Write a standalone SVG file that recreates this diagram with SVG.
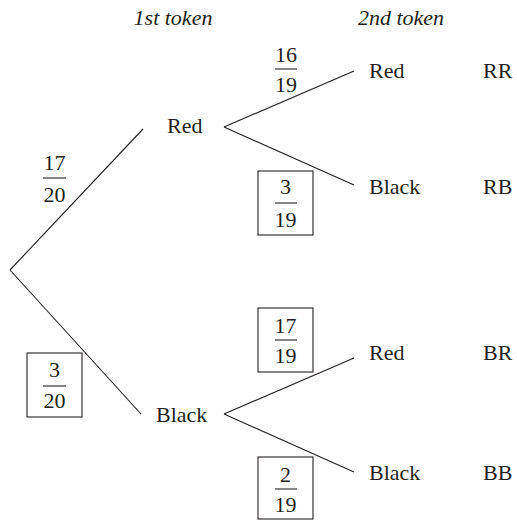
<svg xmlns="http://www.w3.org/2000/svg" width="517" height="521" viewBox="0 0 517 521">
  <!-- column headings -->
  <g id="headings">
    <text x="173" y="25" font-size="22" font-family="Liberation Serif" font-style="italic" text-anchor="middle" fill="#231f20">1st token</text>
    <text x="401" y="25" font-size="22" font-family="Liberation Serif" font-style="italic" text-anchor="middle" fill="#231f20">2nd token</text>
  </g>

  <!-- branches -->
  <g id="connectors" stroke="#231f20" stroke-width="1.1" fill="none">
    <line x1="10" y1="270" x2="143" y2="129"/>
    <line x1="10" y1="270" x2="141" y2="414"/>
    <line x1="224" y1="127" x2="354" y2="71"/>
    <line x1="224" y1="127" x2="354" y2="185"/>
    <line x1="224" y1="414" x2="354" y2="358"/>
    <line x1="224" y1="414" x2="354" y2="472"/>
  </g>

  <!-- first draw -->
  <g id="node-red"><text x="167" y="133" font-size="22" font-family="Liberation Serif" fill="#231f20">Red</text></g>
  <g id="node-black"><text x="156" y="422" font-size="22" font-family="Liberation Serif" fill="#231f20">Black</text></g>

  <!-- second draw -->
  <g id="node-red-red">
    <text x="369" y="78" font-size="22" font-family="Liberation Serif" fill="#231f20">Red</text>
    <text x="483" y="78" font-size="22" font-family="Liberation Serif" fill="#231f20">RR</text>
  </g>
  <g id="node-red-black">
    <text x="369" y="194" font-size="22" font-family="Liberation Serif" fill="#231f20">Black</text>
    <text x="483" y="194" font-size="22" font-family="Liberation Serif" fill="#231f20">RB</text>
  </g>
  <g id="node-black-red">
    <text x="369" y="360" font-size="22" font-family="Liberation Serif" fill="#231f20">Red</text>
    <text x="483" y="360" font-size="22" font-family="Liberation Serif" fill="#231f20">BR</text>
  </g>
  <g id="node-black-black">
    <text x="369" y="480" font-size="22" font-family="Liberation Serif" fill="#231f20">Black</text>
    <text x="483" y="480" font-size="22" font-family="Liberation Serif" fill="#231f20">BB</text>
  </g>

  <!-- branch probabilities -->
  <g id="p-17-20">
    <text x="54.5" y="170" font-size="22" font-family="Liberation Serif" text-anchor="middle" fill="#231f20">17</text>
    <line x1="43" y1="178" x2="66" y2="178" stroke="#231f20" stroke-width="1.1"/>
    <text x="54.5" y="202" font-size="22" font-family="Liberation Serif" text-anchor="middle" fill="#231f20">20</text>
  </g>
  <g id="p-3-20">
    <rect x="27" y="353" width="55" height="64" stroke="#231f20" stroke-width="1.1" fill="none"/>
    <text x="54.5" y="377" font-size="22" font-family="Liberation Serif" text-anchor="middle" fill="#231f20">3</text>
    <line x1="43" y1="386" x2="66" y2="386" stroke="#231f20" stroke-width="1.1"/>
    <text x="54.5" y="408" font-size="22" font-family="Liberation Serif" text-anchor="middle" fill="#231f20">20</text>
  </g>
  <g id="p-16-19">
    <text x="286" y="62" font-size="22" font-family="Liberation Serif" text-anchor="middle" fill="#231f20">16</text>
    <line x1="275" y1="69" x2="297" y2="69" stroke="#231f20" stroke-width="1.1"/>
    <text x="286" y="92" font-size="22" font-family="Liberation Serif" text-anchor="middle" fill="#231f20">19</text>
  </g>
  <g id="p-3-19">
    <rect x="258" y="171" width="55" height="64" stroke="#231f20" stroke-width="1.1" fill="none"/>
    <text x="285.5" y="194" font-size="22" font-family="Liberation Serif" text-anchor="middle" fill="#231f20">3</text>
    <line x1="275" y1="203" x2="297" y2="203" stroke="#231f20" stroke-width="1.1"/>
    <text x="285.5" y="227" font-size="22" font-family="Liberation Serif" text-anchor="middle" fill="#231f20">19</text>
  </g>
  <g id="p-17-19">
    <rect x="258" y="308" width="55" height="64" stroke="#231f20" stroke-width="1.1" fill="none"/>
    <text x="285.5" y="333" font-size="22" font-family="Liberation Serif" text-anchor="middle" fill="#231f20">17</text>
    <line x1="275" y1="340" x2="297" y2="340" stroke="#231f20" stroke-width="1.1"/>
    <text x="285.5" y="363" font-size="22" font-family="Liberation Serif" text-anchor="middle" fill="#231f20">19</text>
  </g>
  <g id="p-2-19">
    <rect x="258" y="457" width="55" height="62" stroke="#231f20" stroke-width="1.1" fill="none"/>
    <text x="285.5" y="482" font-size="22" font-family="Liberation Serif" text-anchor="middle" fill="#231f20">2</text>
    <line x1="275" y1="489" x2="297" y2="489" stroke="#231f20" stroke-width="1.1"/>
    <text x="285.5" y="512" font-size="22" font-family="Liberation Serif" text-anchor="middle" fill="#231f20">19</text>
  </g>
</svg>
